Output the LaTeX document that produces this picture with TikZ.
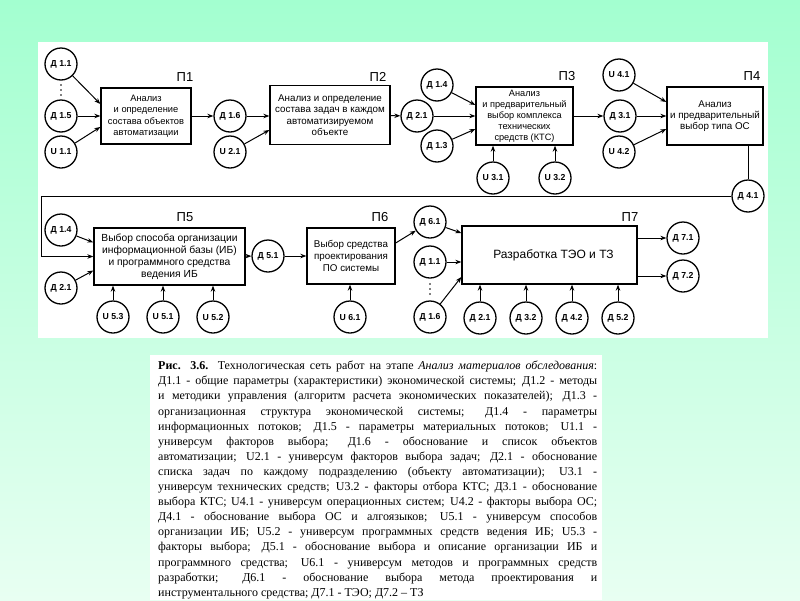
\documentclass[tikz,border=0pt]{standalone}
\usepackage{fontspec}
\setmainfont{Liberation Serif}
\setsansfont{Liberation Sans}
\usetikzlibrary{arrows.meta,calc}
\begin{document}
\begin{tikzpicture}[x=1pt,y=-1pt,
  circ/.style={circle,draw,line width=1.3pt,minimum size=32pt,inner sep=0pt,font=\sffamily\bfseries\fontsize{8.7}{9}\selectfont},
  proc/.style={draw,line width=1.3pt,rectangle,align=center,inner sep=1pt},
  plab/.style={font=\sffamily\fontsize{13}{13}\selectfont,inner sep=0pt},
  arr/.style={-{Stealth[length=6pt,width=4.5pt]},line width=1pt},
  ln/.style={line width=1pt}
]
\useasboundingbox (0,0) rectangle (800,600);
\fill[top color={rgb,255:red,163;green,255;blue,208},bottom color={rgb,255:red,232;green,255;blue,242}] (0,0) rectangle (800,600);
\fill[white] (38,42) rectangle (768,338);
\fill[white] (150,355) rectangle (602,600);

% ---------- row 1 ----------
\node[proc,minimum width=90pt,minimum height=56pt,font=\sffamily\fontsize{9.3}{11.5}\selectfont] (P1) at (146,116) {Анализ\\и определение\\состава объектов\\автоматизации};
\node[proc,minimum width=120pt,minimum height=59pt,font=\sffamily\fontsize{9.8}{11.5}\selectfont] (P2) at (330,115) {Анализ и определение\\состава задач в каждом\\автоматизируемом\\объекте};
\node[proc,minimum width=97pt,minimum height=58pt,font=\sffamily\fontsize{9.2}{11}\selectfont] (P3) at (524.5,116) {Анализ\\и предварительный\\выбор комплекса\\технических\\средств (КТС)};
\node[proc,minimum width=96pt,minimum height=58pt,font=\sffamily\fontsize{9.8}{11}\selectfont] (P4) at (715,116) {Анализ\\и предварительный\\выбор типа ОС};

\node[plab] (L1) at (185,77) {П1};
\node[plab] (L2) at (378,77) {П2};
\node[plab] (L3) at (567,76) {П3};
\node[plab] (L4) at (752,76) {П4};

\node[circ] (d11) at (61,64) {Д 1.1};
\node[circ] (d15) at (61,116) {Д 1.5};
\node[circ] (u11) at (61,152) {U 1.1};
\fill (61,85) circle (0.8) (61,90) circle (0.8) (61,95) circle (0.8);

\node[circ] (d16) at (230,116) {Д 1.6};
\node[circ] (u21) at (230,152) {U 2.1};

\node[circ] (d14a) at (437,85) {Д 1.4};
\node[circ] (d21a) at (417,116) {Д 2.1};
\node[circ] (d13a) at (437,146) {Д 1.3};
\node[circ] (u31) at (493,178) {U 3.1};
\node[circ] (u32) at (555,178) {U 3.2};

\node[circ] (u41) at (619,75) {U 4.1};
\node[circ] (d31) at (620,116) {Д 3.1};
\node[circ] (u42) at (619,152) {U 4.2};
\node[circ] (d41) at (748,196) {Д 4.1};

\draw[arr] (d11) -- ([yshift=12pt]P1.west);
\draw[arr] (d15) -- (P1.west);
\draw[arr] (u11) -- ([yshift=-11pt]P1.west);
\draw[arr] (P1) -- (d16);
\draw[arr] (d16) -- (P2.west |- d16);
\draw[arr] (u21) -- ([yshift=-15pt]P2.west);
\draw[arr] (P2) -- (d21a);
\draw[arr] (d14a) -- ([yshift=11pt]P3.west);
\draw[arr] (d21a) -- (P3.west |- d21a);
\draw[arr] (d13a) -- ([yshift=-13pt]P3.west);
\draw[arr] (u31) -- (u31 |- P3.south);
\draw[arr] (u32) -- (u32 |- P3.south);
\draw[arr] (P3) -- (d31);
\draw[arr] (u41) -- ([yshift=14pt]P4.west);
\draw[arr] (d31) -- (P4.west |- d31);
\draw[arr] (u42) -- ([yshift=-13pt]P4.west);
\draw[ln] (d41 |- P4.south) -- (d41);

% ---------- row 2 ----------
\node[proc,minimum width=151pt,minimum height=57pt,font=\sffamily\fontsize{10.3}{12}\selectfont] (P5) at (169.5,256.5) {Выбор способа организации\\информационной базы (ИБ)\\и программного средства\\ведения ИБ};
\node[proc,minimum width=88pt,minimum height=56pt,font=\sffamily\fontsize{9.8}{12}\selectfont] (P6) at (351,256) {Выбор средства\\проектирования\\ПО системы};
\node[proc,minimum width=175pt,minimum height=58pt,font=\sffamily\fontsize{12}{14}\selectfont] (P7) at (549.5,255) {\hspace*{8pt}Разработка ТЭО и ТЗ};

\node[plab] (L5) at (185,217) {П5};
\node[plab] (L6) at (380,217) {П6};
\node[plab] (L7) at (630,217) {П7};

\node[circ] (d14b) at (61,230) {Д 1.4};
\node[circ] (d21b) at (61,288) {Д 2.1};
\node[circ] (u53) at (113,317) {U 5.3};
\node[circ] (u51) at (163,317) {U 5.1};
\node[circ] (u52) at (213,317) {U 5.2};
\node[circ] (d51) at (268,256) {Д 5.1};
\node[circ] (u61) at (350,317) {U 6.1};
\node[circ] (d61) at (430,222) {Д 6.1};
\node[circ] (d11b) at (430,262) {Д 1.1};
\node[circ] (d16b) at (430,317) {Д 1.6};
\fill (430,284) circle (0.8) (430,289) circle (0.8) (430,294) circle (0.8);
\node[circ] (d21c) at (480,318) {Д 2.1};
\node[circ] (d32) at (526,318) {Д 3.2};
\node[circ] (d42) at (572,318) {Д 4.2};
\node[circ] (d52) at (618,318) {Д 5.2};
\node[circ] (d71) at (683,238) {Д 7.1};
\node[circ] (d72) at (683,276) {Д 7.2};

\coordinate (fb1) at (41,196);
\coordinate (fb2) at (41,256.5);
\draw[arr] (d41) -- (fb1) -- (fb2) -- (P5.west);
\draw[arr] (d14b) -- ([yshift=14pt]P5.west);
\draw[arr] (d21b) -- ([yshift=-14pt]P5.west);
\draw[arr] (u53) -- (u53 |- P5.south);
\draw[arr] (u51) -- (u51 |- P5.south);
\draw[arr] (u52) -- (u52 |- P5.south);
\draw[arr] (P5) -- (d51);
\draw[arr] (d51) -- (P6.west |- d51);
\draw[arr] (u61) -- (u61 |- P6.south);
\draw[arr] ([yshift=13pt]P6.east) -- (d61);
\draw[arr] (d61) -- ([yshift=22pt]P7.west);
\draw[arr] (d11b) -- (P7.west |- d11b);
\draw[arr] (d16b) -- ([yshift=-22pt]P7.west);
\draw[arr] (d21c) -- (d21c |- P7.south);
\draw[arr] (d32) -- (d32 |- P7.south);
\draw[arr] (d42) -- (d42 |- P7.south);
\draw[arr] (d52) -- (d52 |- P7.south);
\draw[arr] (P7.east |- d71) -- (d71);
\draw[arr] (P7.east |- d72) -- (d72);

% ---------- caption ----------
\node[anchor=north west,inner sep=0pt,text width=439pt,align=justify,font=\fontsize{12}{15.1}\selectfont] (cap) at (158,361) {%
\makebox[439pt][s]{\textbf{Рис. 3.6.} Технологическая сеть работ на этапе \textit{Анализ материалов обследования}:}\\
\makebox[439pt][s]{Д1.1 - общие параметры (характеристики) экономической системы; Д1.2 - методы}\\
\makebox[439pt][s]{и методики управления (алгоритм расчета экономических показателей); Д1.3 -}\\
\makebox[439pt][s]{организационная структура экономической системы; Д1.4 - параметры}\\
\makebox[439pt][s]{информационных потоков; Д1.5 - параметры материальных потоков; U1.1 -}\\
\makebox[439pt][s]{универсум факторов выбора; Д1.6 - обоснование и список объектов}\\
\makebox[439pt][s]{автоматизации; U2.1 - универсум факторов выбора задач; Д2.1 - обоснование}\\
\makebox[439pt][s]{списка задач по каждому подразделению (объекту автоматизации); U3.1 -}\\
\makebox[439pt][s]{универсум технических средств; U3.2 - факторы отбора КТС; Д3.1 - обоснование}\\
\makebox[439pt][s]{выбора КТС; U4.1 - универсум операционных систем; U4.2 - факторы выбора ОС;}\\
\makebox[439pt][s]{Д4.1 - обоснование выбора ОС и алгоязыков; U5.1 - универсум способов}\\
\makebox[439pt][s]{организации ИБ; U5.2 - универсум программных средств ведения ИБ; U5.3 -}\\
\makebox[439pt][s]{факторы выбора; Д5.1 - обоснование выбора и описание организации ИБ и}\\
\makebox[439pt][s]{программного средства; U6.1 - универсум методов и программных средств}\\
\makebox[439pt][s]{разработки; Д6.1 - обоснование выбора метода проектирования и}\\
инструментального средства; Д7.1 - ТЭО; Д7.2 – ТЗ};
\end{tikzpicture}
\end{document}
